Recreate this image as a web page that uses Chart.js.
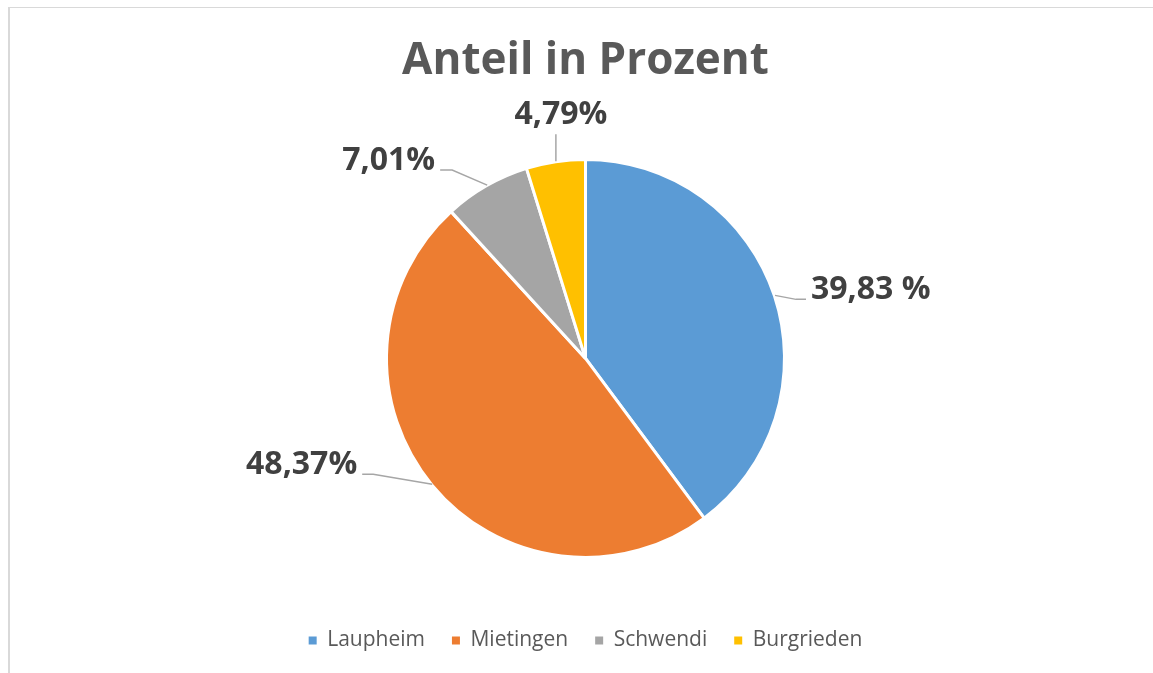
<!DOCTYPE html>
<html>
<head>
<meta charset="utf-8">
<script src="https://cdn.jsdelivr.net/npm/chart.js@4/dist/chart.umd.min.js"></script>
<style>
  html, body { margin: 0; padding: 0; background: #fff; }
  #frame {
    position: absolute; left: 8px; top: 7px; width: 1200px; height: 700px;
    border-top: 1px solid #d9d9d9; border-left: 2px solid #d9d9d9;
  }
  #wrap { position: absolute; left: 0; top: 0; width: 1153px; height: 673px; }
</style>
</head>
<body>
<div id="frame"></div>
<div id="wrap"><canvas id="myChart"></canvas></div>
<script>
const categories = ["Laupheim", "Mietingen", "Schwendi", "Burgrieden"];
const shares = [39.83, 48.37, 7.01, 4.79];
const shareLabels = ["39,83 %", "48,37%", "7,01%", "4,79%"];
const sliceColors = ["#5b9bd5", "#ed7d31", "#a5a5a5", "#ffc000"];

// leader line points and text anchor, relative to the slice edge at its middle angle
const labelLayout = [
  { path: [[2, -1], [23, 3], [33, 3]], text: [38, 3], align: "left" },
  { path: [[-1, 0], [-60, -10], [-71, -10]], text: [-76, -10], align: "right" },
  { path: [[0, -2], [-35, -17], [-47, -17]], text: [-52, -17], align: "right" },
  { path: [[0, -2], [0, -29]], text: [5, -39], align: "center" },
];

const sliceLabels = {
  id: "sliceLabels",
  afterDatasetsDraw(chart) {
    const { ctx } = chart;
    const meta = chart.getDatasetMeta(0);
    ctx.save();
    meta.data.forEach((arc, i) => {
      const p = arc.getProps(["x", "y", "startAngle", "endAngle", "outerRadius"], true);
      const mid = (p.startAngle + p.endAngle) / 2;
      const r = p.outerRadius - 1.5;
      const ex = p.x + Math.cos(mid) * r;
      const ey = p.y + Math.sin(mid) * r;
      const lay = labelLayout[i];

      ctx.strokeStyle = "#a6a6a6";
      ctx.lineWidth = 1.5;
      ctx.beginPath();
      lay.path.forEach(([dx, dy], k) => {
        if (k === 0) ctx.moveTo(ex + dx, ey + dy);
        else ctx.lineTo(ex + dx, ey + dy);
      });
      ctx.stroke();

      ctx.fillStyle = "#404040";
      ctx.font = "bold 32px 'Open Sans'";
      ctx.textAlign = lay.align;
      ctx.textBaseline = "alphabetic";
      ctx.fillText(shareLabels[i], ex + lay.text[0], ey + lay.text[1]);
    });
    ctx.restore();
  },
};

const defaultLabels = Chart.overrides.pie.plugins.legend.labels.generateLabels;

const ctx = document.getElementById("myChart").getContext("2d");
new Chart(ctx, {
  type: "pie",
  data: {
    labels: categories,
    datasets: [
      {
        data: shares,
        backgroundColor: sliceColors,
        borderColor: "#ffffff",
        borderWidth: 3,
        radius: 199,
      },
    ],
  },
  options: {
    responsive: true,
    maintainAspectRatio: false,
    animation: false,
    layout: {
      padding: { left: 18, right: 0, top: 0, bottom: 12 },
    },
    plugins: {
      title: {
        display: true,
        text: "Anteil in Prozent",
        color: "#595959",
        font: { family: "'Open Sans'", size: 44, weight: "bold", lineHeight: 1.2 },
        padding: { top: 35, bottom: 26 },
      },
      legend: {
        position: "bottom",
        labels: {
          boxWidth: 8,
          boxHeight: 8,
          padding: 27,
          color: "#595959",
          font: { family: "'Open Sans'", size: 21 },
          generateLabels: (chart) =>
            defaultLabels(chart).map((item) => ({ ...item, lineWidth: 0 })),
        },
      },
      tooltip: { enabled: false },
    },
  },
  plugins: [sliceLabels],
});
</script>
</body>
</html>
